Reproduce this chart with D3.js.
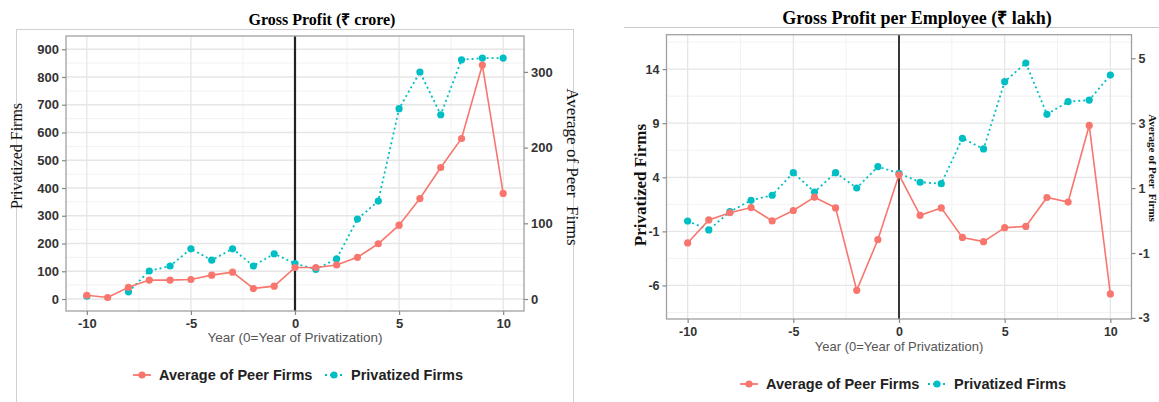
<!DOCTYPE html>
<html><head><meta charset="utf-8">
<script src="https://cdn.jsdelivr.net/npm/d3@7/dist/d3.min.js"></script>
<style>
body{margin:0;background:#fff;}
svg{display:block;}
.serif{font-family:"Liberation Serif","Times New Roman",serif;}
.sans{font-family:"Liberation Sans",Arial,sans-serif;}
</style></head>
<body>
<svg id="chart" width="1159" height="402"></svg>
<script>
const years = [-10,-9,-8,-7,-6,-5,-4,-3,-2,-1,0,1,2,3,4,5,6,7,8,9,10];
const xTicks = [-10,-5,0,5,10];

// Gross Profit (₹ crore)
const gpPrivatized = [10,null,26,101,119,181,140,181,119,163,128,107,145,288,353,686,818,664,862,868,868];
const gpPeer = [4.9,2,15.5,25,25,25.8,31.5,35.4,13.9,17,41.6,41.6,45,55,73,97.5,132.7,173.7,212,309,139.4];
const gpLeftTicks = [0,100,200,300,400,500,600,700,800,900];
const gpRightTicks = [0,100,200,300];

// Gross Profit per Employee (₹ lakh)
const gppePrivatized = [-0.04,-0.87,0.82,1.87,2.34,4.43,2.64,4.43,3.01,4.98,4.37,3.54,3.41,7.6,6.62,12.84,14.56,9.82,10.99,11.14,13.45];
const gppePeer = [-0.69,0.02,0.24,0.40,-0.01,0.31,0.72,0.39,-2.15,-0.59,1.41,0.16,0.39,-0.52,-0.65,-0.22,-0.18,0.71,0.57,2.93,-2.26];
const gppeLeftTicks = [-6,-1,4,9,14];
const gppeRightTicks = [-3,-1,1,3,5];

const seriesNames = ["Average of Peer Firms","Privatized Firms"];
const RED = "#F8766D", CYAN = "#00BFC4";

const svg = d3.select("#chart");

function drawPanel(o){
  const g = svg.append("g");
  const x = d3.scaleLinear().domain([-11,11]).range([o.left,o.right]);
  const yL = d3.scaleLinear().domain(o.yDom).range([o.bottom,o.top]);
  const yR = d3.scaleLinear().domain([o.yDom[0]/o.ratio,o.yDom[1]/o.ratio]).range([o.bottom,o.top]);

  g.append("rect").attr("x",o.left).attr("y",o.top).attr("width",o.right-o.left).attr("height",o.bottom-o.top).attr("fill","#fff");
  const xMinor = [-7.5,-2.5,2.5,7.5];
  const yMinor = o.leftTicks.slice(0,-1).map((d,i)=>(d+o.leftTicks[i+1])/2);
  const step = o.leftTicks[1]-o.leftTicks[0];
  yMinor.unshift(o.leftTicks[0]-step/2); yMinor.push(o.leftTicks[o.leftTicks.length-1]+step/2);
  const gm = g.append("g");
  gm.selectAll(".vx").data(xMinor).join("line").attr("x1",d=>x(d)).attr("x2",d=>x(d)).attr("y1",o.top).attr("y2",o.bottom).attr("stroke","#F2F2F2").attr("stroke-width",1);
  gm.selectAll(".hy").data(yMinor.filter(d=>d>o.yDom[0]&&d<o.yDom[1])).join("line").attr("class","hy").attr("x1",o.left).attr("x2",o.right).attr("y1",d=>yL(d)).attr("y2",d=>yL(d)).attr("stroke","#F2F2F2").attr("stroke-width",1);
  g.append("g").selectAll("line").data(xTicks).join("line").attr("x1",d=>x(d)).attr("x2",d=>x(d)).attr("y1",o.top).attr("y2",o.bottom).attr("stroke","#E6E6E6").attr("stroke-width",1.3);
  g.append("g").selectAll("line").data(o.leftTicks).join("line").attr("x1",o.left).attr("x2",o.right).attr("y1",d=>yL(d)).attr("y2",d=>yL(d)).attr("stroke","#E6E6E6").attr("stroke-width",1.3);

  g.append("line").attr("x1",x(0)).attr("x2",x(0)).attr("y1",o.top).attr("y2",o.bottom).attr("stroke","#222").attr("stroke-width",o.vlineW);

  const lineP = d3.line().defined(d=>d[1]!=null).x(d=>x(d[0])).y(d=>yL(d[1]));
  const lineA = d3.line().defined(d=>d[1]!=null).x(d=>x(d[0])).y(d=>yR(d[1]));
  const pData = years.map((yr,i)=>[yr,o.priv[i]]);
  const aData = years.map((yr,i)=>[yr,o.peer[i]]);
  g.append("path").datum(pData).attr("d",lineP).attr("fill","none").attr("stroke",CYAN).attr("stroke-width",1.8).attr("stroke-dasharray","2,3");
  g.append("g").selectAll("circle").data(pData.filter(d=>d[1]!=null)).join("circle").attr("cx",d=>x(d[0])).attr("cy",d=>yL(d[1])).attr("r",3.6).attr("fill",CYAN);
  g.append("path").datum(aData).attr("d",lineA).attr("fill","none").attr("stroke",RED).attr("stroke-width",1.6);
  g.append("g").selectAll("circle").data(aData.filter(d=>d[1]!=null)).join("circle").attr("cx",d=>x(d[0])).attr("cy",d=>yR(d[1])).attr("r",3.6).attr("fill",RED);

  g.append("rect").attr("x",o.left).attr("y",o.top).attr("width",o.right-o.left).attr("height",o.bottom-o.top).attr("fill","none").attr("stroke","#A0A0A0").attr("stroke-width",1.3);

  const axStyle = sel=>{
    sel.select(".domain").remove();
    sel.selectAll(".tick line").attr("stroke","#888").attr("stroke-width",1.2);
    sel.selectAll(".tick text").attr("fill","#333").attr("font-weight","bold").attr("font-size",o.tickFs).attr("font-family","Liberation Sans, Arial, sans-serif");
  };
  g.append("g").attr("transform",`translate(0,${o.bottom})`).call(d3.axisBottom(x).tickValues(xTicks).tickSize(4).tickPadding(4).tickFormat(d3.format("d"))).call(axStyle);
  g.append("g").attr("transform",`translate(${o.left},0)`).call(d3.axisLeft(yL).tickValues(o.leftTicks).tickSize(4).tickPadding(3).tickFormat(d3.format("d"))).call(axStyle);
  g.append("g").attr("transform",`translate(${o.right},0)`).call(d3.axisRight(yR).tickValues(o.rightTicks).tickSize(4).tickPadding(3).tickFormat(d3.format("d"))).call(axStyle);
  g.selectAll(".tick text").text(function(){return this.textContent.replace("−","-");});

  g.append("text").attr("class","serif").attr("x",o.titleX).attr("y",o.titleY).attr("text-anchor","middle").attr("font-weight","bold").attr("font-size",o.titleFs).attr("fill","#000").text(o.title);
  g.append("text").attr("class","sans").attr("x",(o.left+o.right)/2).attr("y",o.xTitleY).attr("text-anchor","middle").attr("font-size",o.xTitleFs).attr("fill","#555").text("Year (0=Year of Privatization)");
  g.append("text").attr("class","serif").attr("transform",`translate(${o.yLx},${o.yLy}) rotate(-90)`).attr("text-anchor","middle").attr("font-weight",o.yTitleW).attr("font-size",o.yLfs).attr("fill","#111").text(seriesNames[1]);
  g.append("text").attr("class","serif").attr("transform",`translate(${o.yRx},${o.yRy}) rotate(90)`).attr("text-anchor","middle").attr("font-weight",o.yTitleW).attr("font-size",o.yRfs).attr("fill","#111").style("white-space","pre").text("Average of Peer  Firms");

  const lg = g.append("g").attr("transform",`translate(0,${o.legY})`);
  const items = [{name:seriesNames[0],c:RED,dash:null,x:o.legX[0]},{name:seriesNames[1],c:CYAN,dash:"2,3",x:o.legX[1]}];
  items.forEach(it=>{
    lg.append("line").attr("x1",it.x).attr("x2",it.x+18).attr("y1",0).attr("y2",0).attr("stroke",it.c).attr("stroke-width",1.8).attr("stroke-dasharray",it.dash);
    lg.append("circle").attr("cx",it.x+9).attr("cy",0).attr("r",3.6).attr("fill",it.c);
    lg.append("text").attr("class","sans").attr("x",it.x+26).attr("y",5).attr("font-weight","bold").attr("font-size",14.5).attr("fill","#222").text(it.name);
  });
}

svg.append("rect").attr("x",16.5).attr("y",29.5).attr("width",557).attr("height",380).attr("fill","none").attr("stroke","#D0D0D0").attr("stroke-width",1);
svg.append("line").attr("x1",624).attr("x2",1159).attr("y1",27.5).attr("y2",27.5).attr("stroke","#C8C8C8").attr("stroke-width",1);

drawPanel({left:66,right:524,top:36,bottom:311,yDom:[-43.2,947.7],ratio:2.728,
  priv:gpPrivatized,peer:gpPeer,leftTicks:gpLeftTicks,rightTicks:gpRightTicks,
  tickFs:13,title:"Gross Profit (₹ crore)",titleX:322,titleY:25,titleFs:16,
  xTitleY:342,xTitleFs:13.5,yTitleW:"normal",yLx:22,yLy:156,yLfs:16,yRx:567,yRy:167,yRfs:17,
  vlineW:2.2,legY:375,legX:[133,325]});

drawPanel({left:666.5,right:1131.5,top:34.7,bottom:319,yDom:[-9.1,17.18],ratio:3,
  priv:gppePrivatized,peer:gppePeer,leftTicks:gppeLeftTicks,rightTicks:gppeRightTicks,
  tickFs:12.5,title:"Gross Profit per Employee (₹ lakh)",titleX:917,titleY:24,titleFs:18,
  xTitleY:351,xTitleFs:13,yTitleW:"bold",yLx:646,yLy:185,yLfs:17,yRx:1148.5,yRy:168,yRfs:11,
  vlineW:1.8,legY:384,legX:[740,928]});
</script>
</body></html>
